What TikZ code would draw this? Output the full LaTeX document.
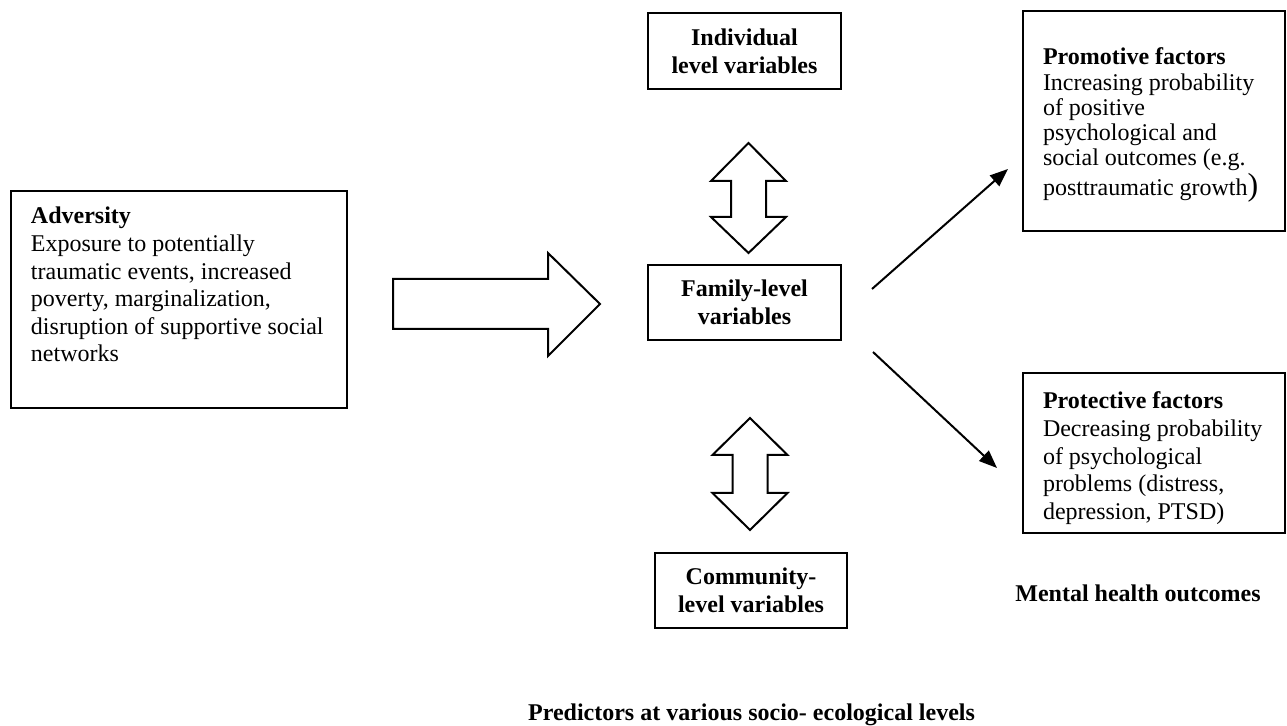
\documentclass[tikz,border=0pt]{standalone}
\usepackage{fontspec}
\setmainfont{Liberation Serif}
\usetikzlibrary{arrows.meta}
\newcommand{\bodyfont}{\fontsize{12}{13.8}\selectfont}
\newcommand{\topblock}[4]{\parbox[t][#1][t]{#2}{\rule{0pt}{#3}#4}}

\begin{document}
\begin{tikzpicture}[x=0.5pt, y=-0.5pt, line width=1pt, font=\bodyfont,
  box/.style={draw, line width=1pt, inner sep=0pt, anchor=north west},
  level/.style={draw, line width=1pt, align=center, font=\bodyfont\bfseries,
                minimum width=96.5pt, minimum height=37.5pt, inner sep=0pt},
  flow/.style={-{Triangle[length=9pt, width=7pt]}, line width=1pt},
  block/.style={draw, line width=1pt, line join=miter, fill=white}]
  \useasboundingbox (0,0) rectangle (1287,726);

  \node[box, inner xsep=10pt] (adv) at (10,190) {\topblock{108.5pt}{148pt}{16.5pt}{%
    \textbf{Adversity}\\Exposure to potentially\\traumatic events, increased\\
    poverty, marginalization,\\disruption of supportive social\\networks}};

  \node[level, minimum height=38pt] (ind) at (744.5,51) {Individual\\level variables};
  \node[level] (fam) at (744.5,302.5) {Family-level\\variables};
  \node[level, minimum width=96pt] (com) at (751,590.5) {Community-\\level variables};

  \node[box, inner xsep=10pt] (prom) at (1022,10) {\topblock{110pt}{111pt}{27pt}{%
    \fontsize{12}{12.6}\selectfont
    \textbf{Promotive factors}\\Increasing probability\\of positive\\psychological and\\
    social outcomes (e.g.\\posttraumatic growth{\fontsize{16}{12.6}\selectfont)}}};
  \node[box, inner xsep=10pt] (prot) at (1022,372) {\topblock{80pt}{111pt}{18pt}{%
    \textbf{Protective factors}\\Decreasing probability\\of psychological\\
    problems (distress,\\depression, PTSD)}};

  \node[font=\bodyfont\bfseries, anchor=base] (mho) at (1138,602) {Mental health outcomes};
  \node[font=\bodyfont\bfseries, anchor=base] (pred) at (751.5,721)
    {Predictors at various socio- ecological levels};

  \draw[block] (393,279) -- (548,279) -- (548,253) -- (600,304) -- (548,356)
    -- (548,329) -- (393,329) -- cycle;
  \draw[block] (748.5,143) -- (786,181) -- (766,181) -- (766,217) -- (786,217)
    -- (748.5,253) -- (711,217) -- (731,217) -- (731,181) -- (711,181) -- cycle;
  \draw[block] (750,418) -- (787.5,455) -- (767.5,455) -- (767.5,493) -- (787.5,493)
    -- (750,530) -- (712.5,493) -- (732.5,493) -- (732.5,455) -- (712.5,455) -- cycle;

  \coordinate (famUp) at (872,289);
  \coordinate (promIn) at (1008,169);
  \coordinate (famDown) at (873,352);
  \coordinate (protIn) at (997,468);
  \draw[flow] (famUp) -- (promIn);
  \draw[flow] (famDown) -- (protIn);
\end{tikzpicture}
\end{document}
